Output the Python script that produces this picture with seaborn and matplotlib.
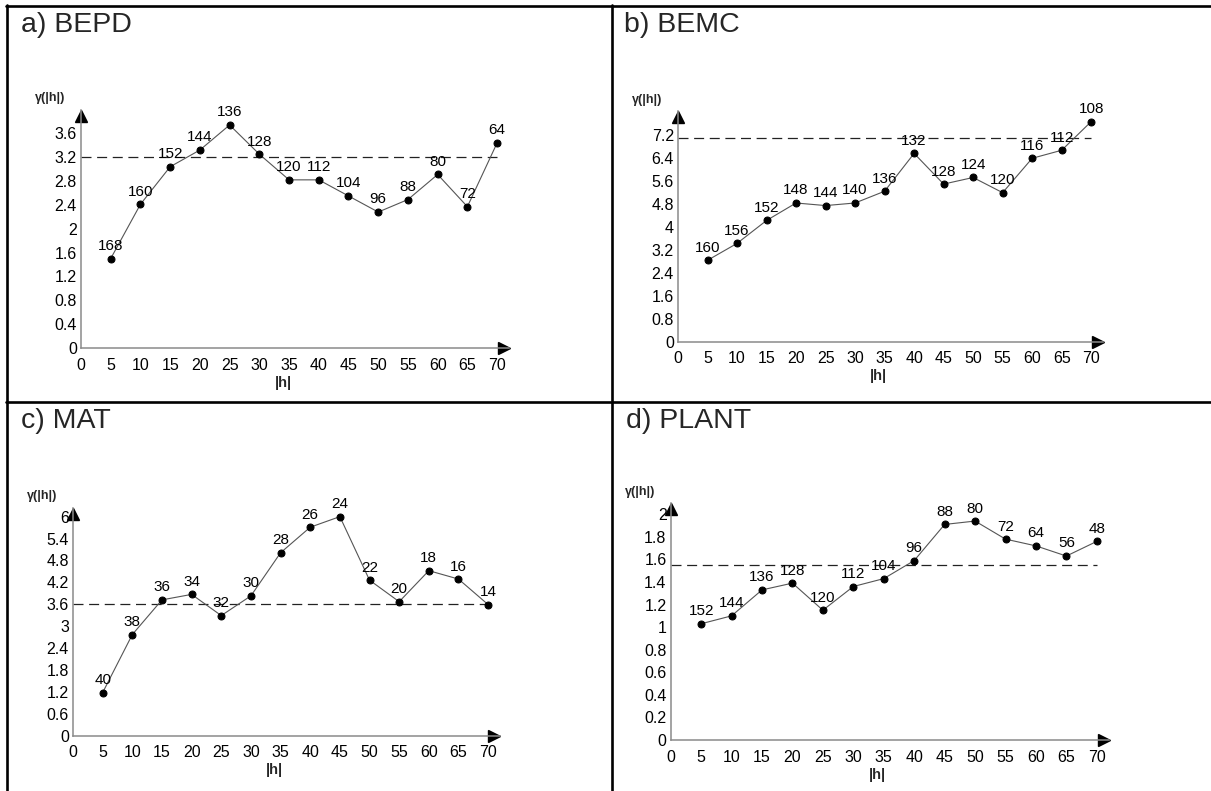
import matplotlib
matplotlib.use("Agg")
import matplotlib.pyplot as plt
import matplotlib.transforms as mtransforms
from matplotlib.lines import Line2D
import pandas as pd
import seaborn as sns

# ---------------- data ----------------
lags = [5, 10, 15, 20, 25, 30, 35, 40, 45, 50, 55, 60, 65, 70]

bepd_gamma = [1.50, 2.41, 3.04, 3.32, 3.74, 3.25, 2.82, 2.82, 2.55, 2.28, 2.49, 2.91, 2.37, 3.44]
bepd_pairs = [168, 160, 152, 144, 136, 128, 120, 112, 104, 96, 88, 80, 72, 64]
bepd_sill = 3.20

bemc_gamma = [2.84, 3.43, 4.23, 4.84, 4.75, 4.84, 5.25, 6.57, 5.50, 5.73, 5.20, 6.40, 6.68, 7.68]
bemc_pairs = [160, 156, 152, 148, 144, 140, 136, 132, 128, 124, 120, 116, 112, 108]
bemc_sill = 7.11

mat_gamma = [1.18, 2.77, 3.72, 3.87, 3.29, 3.83, 5.01, 5.71, 6.00, 4.26, 3.67, 4.52, 4.29, 3.59]
mat_pairs = [40, 38, 36, 34, 32, 30, 28, 26, 24, 22, 20, 18, 16, 14]
mat_sill = 3.60

plant_gamma = [1.03, 1.10, 1.33, 1.39, 1.15, 1.36, 1.43, 1.59, 1.91, 1.94, 1.78, 1.72, 1.63, 1.76]
plant_pairs = [152, 144, 136, 128, 120, 112, 104, 96, 88, 80, 72, 64, 56, 48]
plant_sill = 1.555

titles = ["a) BEPD", "b) BEMC", "c) MAT", "d) PLANT"]
x_ticks = [0, 5, 10, 15, 20, 25, 30, 35, 40, 45, 50, 55, 60, 65, 70]
bepd_yticks = [0, 0.4, 0.8, 1.2, 1.6, 2, 2.4, 2.8, 3.2, 3.6]
bemc_yticks = [0, 0.8, 1.6, 2.4, 3.2, 4, 4.8, 5.6, 6.4, 7.2]
mat_yticks = [0, 0.6, 1.2, 1.8, 2.4, 3, 3.6, 4.2, 4.8, 5.4, 6]
plant_yticks = [0, 0.2, 0.4, 0.6, 0.8, 1, 1.2, 1.4, 1.6, 1.8, 2]

# ---------------- style ----------------
sns.set_style("white")
plt.rcParams["font.family"] = ["Liberation Sans", "DejaVu Sans"]

W, H = 1211, 791
fig = plt.figure(figsize=(W / 100, H / 100), dpi=100)
fig.patch.set_facecolor("white")


def px_axes(left, right, top, bottom):
    return fig.add_axes([left / W, 1 - bottom / H, (right - left) / W, (bottom - top) / H])


panels = [
    dict(box=(81, 509, 109.5, 348), ylim=4.0, g=bepd_gamma, n=bepd_pairs, sill=bepd_sill,
         yt=bepd_yticks, title=titles[0], tpos=(21, 25)),
    dict(box=(678, 1103, 111, 341.7), ylim=8.05, g=bemc_gamma, n=bemc_pairs, sill=bemc_sill,
         yt=bemc_yticks, title=titles[1], tpos=(624, 25)),
    dict(box=(73, 500, 507.5, 735.7), ylim=6.25, g=mat_gamma, n=mat_pairs, sill=mat_sill,
         yt=mat_yticks, title=titles[2], tpos=(21, 421)),
    dict(box=(670.7, 1109, 503, 740), ylim=2.1, g=plant_gamma, n=plant_pairs, sill=plant_sill,
         yt=plant_yticks, title=titles[3], tpos=(626, 421)),
]

axis_gray = "#8a8a8a"


def fmt(v):
    s = f"{v:.1f}"
    if s.endswith(".0"):
        s = s[:-2]
    return s


for p in panels:
    ax = px_axes(*p["box"])
    ax.set_facecolor("none")
    df = pd.DataFrame({"lag": lags, "gamma": p["g"]})
    sns.lineplot(data=df, x="lag", y="gamma", ax=ax, color="#555555", linewidth=0.8,
                 marker="o", markersize=5, markerfacecolor="black", markeredgecolor="black",
                 zorder=3)
    ax.hlines(p["sill"], 0, 70, colors="#222222", linestyles=(0, (8, 4.5)), linewidth=0.9)
    for x, y, n in zip(lags, p["g"], p["n"]):
        ax.annotate(str(n), (x, y), xytext=(0, 4), textcoords="offset points",
                    ha="center", va="bottom", fontsize=11, color="black")
    ax.set_xlim(0, 72)
    ax.set_ylim(0, p["ylim"])
    ax.set_xticks(x_ticks)
    ax.set_xticklabels([str(t) for t in x_ticks])
    ax.set_yticks(p["yt"])
    ax.set_yticklabels([fmt(t) for t in p["yt"]])
    for s in ["top", "right"]:
        ax.spines[s].set_visible(False)
    for s in ["left", "bottom"]:
        ax.spines[s].set_color(axis_gray)
        ax.spines[s].set_linewidth(1.1)
    ax.tick_params(axis="both", direction="in", length=4, width=1, color=axis_gray,
                   labelsize=11.5, labelcolor="black", pad=3)
    ax.tick_params(axis="x", pad=7)
    ax.set_xlabel("")
    ax.set_ylabel("")
    # arrows
    tx = mtransforms.offset_copy(ax.transAxes, fig=fig, x=-5.5, y=0, units="dots")
    ax.plot([1], [0], marker=">", color="black", markersize=8, transform=tx, clip_on=False)
    ty = mtransforms.offset_copy(ax.transAxes, fig=fig, x=0, y=-6, units="dots")
    ax.plot([0], [1], marker="^", color="black", markersize=8, transform=ty, clip_on=False)
    # axis labels
    ax.annotate("γ(|h|)", (0, 1), xycoords="axes fraction", xytext=(-11, 8),
                textcoords="offset points", ha="right", va="center",
                fontsize=9, fontweight="bold")
    ax.annotate("|h|", (34, 0), xycoords=("data", "axes fraction"), xytext=(0, -25),
                textcoords="offset points", ha="center", va="center",
                fontsize=10.5, fontweight="bold")
    # panel title
    tx0, ty0 = p["tpos"]
    fig.text(tx0 / W, 1 - ty0 / H, p["title"], ha="left", va="center", fontsize=20.5)

# table borders
lw = 1.9


def hline(y, x0, x1):
    fig.add_artist(Line2D([x0 / W, x1 / W], [1 - y / H, 1 - y / H], color="black", linewidth=lw))


def vline(x, y0, y1):
    fig.add_artist(Line2D([x / W, x / W], [1 - y0 / H, 1 - y1 / H], color="black", linewidth=lw))


hline(6, 6, W)
hline(402, 6, W)
vline(7, 5, H)
vline(612, 5, H)

fig.savefig("out.png", dpi=100, facecolor="white")
